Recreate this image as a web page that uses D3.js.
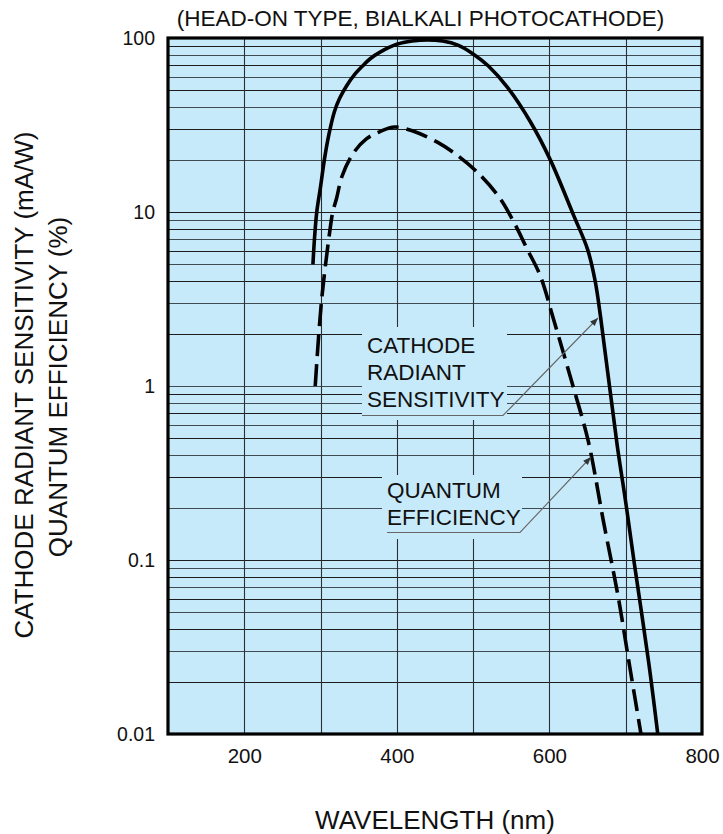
<!DOCTYPE html>
<html>
<head>
<meta charset="utf-8">
<script src="https://cdn.jsdelivr.net/npm/d3@7/dist/d3.min.js"></script>
<style>
  html, body { margin: 0; padding: 0; background: #fff; }
  svg { display: block; }
  text { font-family: "Liberation Sans", Arial, Helvetica, sans-serif; fill: #111; }
</style>
</head>
<body>
<svg id="chart" width="723" height="834"></svg>
<script>
// ---- data ----
const title = "(HEAD-ON TYPE, BIALKALI PHOTOCATHODE)";
const xTitle = "WAVELENGTH (nm)";
const yTitle1 = "CATHODE RADIANT SENSITIVITY (mA/W)";
const yTitle2 = "QUANTUM EFFICIENCY (%)";
const xTicks = [200, 400, 600, 800];
const yTicks = [0.01, 0.1, 1, 10, 100];
const yTickLabels = ["0.01", "0.1", "1", "10", "100"];
const xGrid = [200, 300, 400, 500, 600, 700];

// cathode radiant sensitivity (mA/W) : [wavelength nm, value]
const sensitivity = [
  [290, 5.0], [292, 7], [295, 10], [300, 14], [305, 20], [311, 28], [318, 37.6],
  [325, 45], [334, 53], [345, 62], [355, 69], [365, 76], [378, 83], [400, 92],
  [420, 96], [440, 97.5], [460, 96], [480, 91], [500, 81], [520, 69], [545, 52],
  [575, 33], [601, 20], [632, 9.5], [650, 6.1], [660, 4.0], [667, 2.5],
  [689, 0.45], [700, 0.215], [711, 0.0975], [730, 0.026], [742, 0.01]
];
// quantum efficiency (%) : [wavelength nm, value]
const quantum = [
  [293, 1.0], [301, 3.0], [312, 7.7], [316, 10], [321, 12], [328, 16],
  [342, 21.5], [360, 26.3], [378, 29], [397, 30.8], [421, 29.2], [453, 25.2],
  [474, 22], [505, 17], [535, 12], [553, 8.8], [571, 6.1], [588, 4.3],
  [605, 2.45], [632, 0.96], [651, 0.48], [671, 0.165], [690, 0.062],
  [703, 0.028], [720, 0.01]
];
const labelSens = ["CATHODE", "RADIANT", "SENSITIVITY"];
const labelQE = ["QUANTUM", "EFFICIENCY"];

// ---- layout ----
const L = 168, R = 702, T = 38, B = 734;
const bg = "#c7eafb";
const svg = d3.select("#chart");
const x = d3.scaleLinear().domain([100, 800]).range([L, R]);
const y = d3.scaleLog().domain([0.01, 100]).range([B, T]);

svg.append("defs").append("clipPath").attr("id", "clip")
  .append("rect").attr("x", L).attr("y", T).attr("width", R - L).attr("height", B - T);

svg.append("defs").append("marker")
  .attr("id", "arrow").attr("viewBox", "0 0 10 10").attr("refX", 10).attr("refY", 5)
  .attr("markerWidth", 10).attr("markerHeight", 8).attr("markerUnits", "userSpaceOnUse")
  .attr("orient", "auto")
  .append("path").attr("d", "M0,1 L10,5 L0,9 Z").attr("fill", "#333");

svg.append("rect").attr("x", L).attr("y", T).attr("width", R - L).attr("height", B - T)
  .attr("fill", bg);

// grid
const yGrid = [];
[0.01, 0.1, 1, 10].forEach(d => { for (let k = 1; k <= 9; k++) yGrid.push(+(d * k).toPrecision(3)); });
const gGrid = svg.append("g").attr("clip-path", "url(#clip)");
gGrid.selectAll("line.h").data(yGrid).join("line")
  .attr("x1", L).attr("x2", R)
  .attr("y1", d => Math.round(y(d)) + 0.5).attr("y2", d => Math.round(y(d)) + 0.5)
  .attr("stroke", (d, i) => (i % 2 ? "#1c1c1c" : "#3f4a52")).attr("stroke-width", 1.1);
gGrid.selectAll("line.v").data(xGrid).join("line")
  .attr("y1", T).attr("y2", B)
  .attr("x1", d => Math.round(x(d)) + 0.5).attr("x2", d => Math.round(x(d)) + 0.5)
  .attr("stroke", "#2a2f33").attr("stroke-width", 1.1);

// label patches (hide grid behind labels)
svg.append("rect").attr("x", 362).attr("y", 327).attr("width", 145).attr("height", 93).attr("fill", bg);
svg.append("rect").attr("x", 382).attr("y", 475).attr("width", 140).attr("height", 64).attr("fill", bg);

// curves
const line = d3.line().x(d => x(d[0])).y(d => y(d[1])).curve(d3.curveCatmullRom.alpha(0.5));
const gCurves = svg.append("g").attr("clip-path", "url(#clip)");
gCurves.append("path").datum(sensitivity).attr("d", line)
  .attr("fill", "none").attr("stroke", "#000").attr("stroke-width", 3.6);
gCurves.append("path").datum(quantum).attr("d", line)
  .attr("fill", "none").attr("stroke", "#000").attr("stroke-width", 3.6)
  .attr("stroke-dasharray", "22,8");

// frame
svg.append("rect").attr("x", L).attr("y", T).attr("width", R - L).attr("height", B - T)
  .attr("fill", "none").attr("stroke", "#000").attr("stroke-width", 3.2);

// axes (labels only, frame drawn above)
const xAxis = svg.append("g").attr("transform", `translate(0,${B})`)
  .call(d3.axisBottom(x).tickValues(xTicks).tickSize(0).tickPadding(14).tickFormat(d3.format("d")));
xAxis.select(".domain").remove();
xAxis.selectAll("text").attr("font-size", "20.5px").attr("fill", "#111")
  .attr("font-family", '"Liberation Sans", Arial, sans-serif');

const yAxis = svg.append("g").attr("transform", `translate(${L},0)`)
  .call(d3.axisLeft(y).tickValues(yTicks).tickSize(0).tickPadding(13)
    .tickFormat((d, i) => yTickLabels[i]));
yAxis.select(".domain").remove();
yAxis.selectAll("text").attr("font-size", "19.5px").attr("fill", "#111")
  .attr("font-family", '"Liberation Sans", Arial, sans-serif');

// titles
svg.append("text").attr("x", 420.5).attr("y", 26).attr("text-anchor", "middle")
  .attr("font-size", "22.5px").text(title);
svg.append("text").attr("x", 435).attr("y", 829).attr("text-anchor", "middle")
  .attr("font-size", "26px").text(xTitle);
svg.append("text").attr("transform", "translate(33,385) rotate(-90)")
  .attr("text-anchor", "middle").attr("font-size", "26px").text(yTitle1);
svg.append("text").attr("transform", "translate(67,387) rotate(-90)")
  .attr("text-anchor", "middle").attr("font-size", "26px").text(yTitle2);

// annotation: cathode radiant sensitivity
svg.selectAll("text.ls").data(labelSens).join("text").attr("class", "ls")
  .attr("x", 367).attr("y", (d, i) => 353 + i * 27).attr("font-size", "22.5px").text(d => d);
svg.append("path").attr("d", "M362,415.5 L503,415.5 L598,318")
  .attr("fill", "none").attr("stroke", "#666").attr("stroke-width", 1.1)
  .attr("marker-end", "url(#arrow)");

// annotation: quantum efficiency
svg.selectAll("text.lq").data(labelQE).join("text").attr("class", "lq")
  .attr("x", 387).attr("y", (d, i) => 498 + i * 27).attr("font-size", "22.5px").text(d => d);
svg.append("path").attr("d", "M387,532.5 L520,532.5 L591,457")
  .attr("fill", "none").attr("stroke", "#666").attr("stroke-width", 1.1)
  .attr("marker-end", "url(#arrow)");
</script>
</body>
</html>
